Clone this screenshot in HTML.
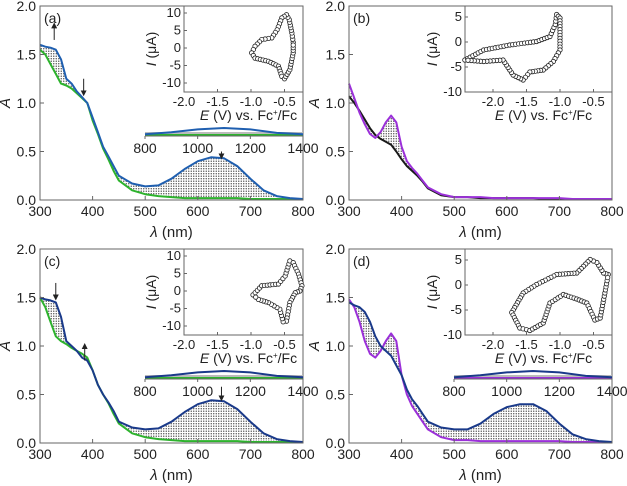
<!DOCTYPE html>
<html><head><meta charset="utf-8">
<style>
html,body{margin:0;padding:0;background:#fff;}
svg{display:block;font-family:"Liberation Sans",Arial,sans-serif;}
</style></head>
<body>
<svg id="fig" width="627" height="486" viewBox="0 0 627 486">
<defs>
<pattern id="dots" width="2.5" height="2.5" patternUnits="userSpaceOnUse">
<rect width="2.5" height="2.5" fill="#fff"/>
<circle cx="1.25" cy="1.25" r="0.7" fill="#555"/>
</pattern>
<marker id="arr" markerWidth="6" markerHeight="6" refX="3" refY="3" orient="auto"><path d="M0,0L6,3L0,6Z" fill="#222"/></marker>
</defs>
</svg>
<script>
// ---- UV-vis data (wavelength in nm, absorbance) ----
const wl = [300,310,320,330,340,350,360,370,380,390,400,410,420,430,440,450,475,500,525,550,575,600,625,650,675,700,725,750,775,800];
const aStart = [1.55,1.5,1.4,1.3,1.2,1.18,1.15,1.1,1.05,1.0,0.82,0.68,0.53,0.42,0.3,0.2,0.1,0.06,0.04,0.03,0.02,0.02,0.02,0.02,0.02,0.01,0.01,0.01,0.01,0.01];
const aEnd = [1.6,1.58,1.57,1.55,1.45,1.25,1.2,1.12,1.06,1.0,0.85,0.7,0.55,0.45,0.35,0.25,0.17,0.14,0.15,0.22,0.32,0.40,0.44,0.43,0.35,0.22,0.1,0.04,0.02,0.01];
const bStart = [1.07,1.0,0.92,0.83,0.74,0.67,0.63,0.6,0.57,0.5,0.42,0.35,0.3,0.25,0.19,0.12,0.05,0.03,0.03,0.02,0.02,0.02,0.02,0.02,0.01,0.01,0.01,0.01,0.01,0.01];
const bEnd = [1.2,1.05,0.9,0.78,0.68,0.64,0.7,0.8,0.87,0.8,0.55,0.4,0.33,0.27,0.2,0.13,0.06,0.03,0.03,0.03,0.02,0.02,0.02,0.02,0.02,0.02,0.01,0.01,0.01,0.01];
const cStart = [1.5,1.48,1.47,1.45,1.3,1.05,1.0,0.95,0.88,0.85,0.75,0.6,0.5,0.42,0.33,0.22,0.16,0.14,0.15,0.22,0.32,0.40,0.44,0.43,0.35,0.22,0.1,0.04,0.02,0.01];
const cEnd = [1.5,1.4,1.25,1.1,1.05,1.02,0.98,0.95,0.92,0.88,0.75,0.6,0.5,0.41,0.3,0.2,0.1,0.06,0.04,0.03,0.02,0.02,0.02,0.02,0.02,0.01,0.01,0.01,0.01,0.01];
const dStart = [1.45,1.42,1.4,1.35,1.25,1.1,1.0,0.95,0.9,0.8,0.7,0.55,0.45,0.38,0.3,0.22,0.16,0.14,0.14,0.2,0.3,0.37,0.40,0.40,0.33,0.2,0.09,0.04,0.02,0.01];
const dEnd = [1.48,1.4,1.25,1.05,0.92,0.88,0.95,1.05,1.13,1.05,0.7,0.5,0.38,0.3,0.22,0.14,0.06,0.03,0.03,0.02,0.02,0.02,0.02,0.02,0.02,0.02,0.01,0.01,0.01,0.01];
// ---- NIR strip data ----
const nirWl = [800,900,1000,1100,1200,1300,1400];
const nirHigh = [0.01,0.04,0.08,0.1,0.08,0.03,0.01];
const nirLow = [0,0,0,0,0,0,0];
// ---- CV data (E in V, I in uA) ----
const cvA_E = [-0.37,-0.39,-0.43,-0.47,-0.54,-0.61,-0.69,-0.84,-0.94,-0.99,-0.94,-0.74,-0.59,-0.54,-0.5,-0.42,-0.37,-0.37];
const cvA_I = [1.6,4.3,8.1,9.5,8.6,5.2,2.9,2.4,0.5,-1.4,-2.9,-3.8,-5.2,-8.1,-8.8,-6.2,-1.4,1.6];
const cvB_E = [-2.42,-2.14,-1.75,-1.35,-1.15,-1.07,-1.05,-1.0,-1.0,-1.1,-1.25,-1.45,-1.55,-1.7,-1.85,-2.14,-2.42];
const cvB_I = [-3.6,-1.6,-0.6,0.1,1.1,3.5,5.5,4.8,-1.6,-3.9,-5.6,-6,-7.6,-6.6,-3.6,-3.9,-3.6];
const cvC_E = [-0.97,-0.84,-0.59,-0.49,-0.42,-0.37,-0.29,-0.24,-0.27,-0.34,-0.42,-0.47,-0.52,-0.57,-0.74,-0.89,-0.97];
const cvC_I = [-1.1,1.5,2,4.3,8.6,8.1,4.8,1.5,0,-0.5,-3.3,-8.6,-8.8,-5.2,-3.3,-2.4,-1.1];
const cvD_E = [-0.28,-0.35,-0.45,-0.55,-0.75,-1.05,-1.35,-1.55,-1.72,-1.6,-1.45,-1.25,-1.15,-0.95,-0.75,-0.6,-0.48,-0.4,-0.33,-0.28];
const cvD_I = [2.1,2.4,4.5,5.1,2.4,2.1,0.1,-1.6,-5.5,-8.6,-9.1,-7.6,-3.6,-1.9,-2.8,-3.6,-7,-6.6,-1.6,2.1];
const yTicks = [0,0.5,1.0,1.5,2.0];
const xTicks = [300,400,500,600,700,800];
const nirTicks = [800,1000,1200,1400];
const cvXTicks = [-2.0,-1.5,-1.0,-0.5];

const NS='http://www.w3.org/2000/svg';
const svg=document.getElementById('fig');
function el(tag,attrs,parent){const e=document.createElementNS(NS,tag);for(const k in attrs)e.setAttribute(k,attrs[k]);(parent||svg).appendChild(e);return e;}
function txt(s,x,y,attrs,parent){const t=el('text',Object.assign({x:x,y:y,'font-size':13,fill:'#222'},attrs||{}),parent);t.textContent=s;return t;}
function pathOf(xs,ys,fx,fy){return xs.map((v,i)=>(i?'L':'M')+fx(v).toFixed(1)+','+fy(ys[i]).toFixed(1)).join('');}
function arrow(g,x,y1,y2){const a=el('line',{x1:x,x2:x,y1:y1,y2:y2,stroke:'#222','stroke-width':1,'marker-end':'url(#arr)'},g);

}

function panel(cfg){
  const g=el('g',{});
  
  
  const L=cfg.x,R=cfg.x+263,T=cfg.y,B=cfg.y+194;
  const fx=v=>L+(v-300)/500*(R-L);
  const fy=v=>B-v/2*(B-T);
  const top=wl.map((w,i)=>Math.max(cfg.s1[i],cfg.s2[i]));
  const bot=wl.map((w,i)=>Math.min(cfg.s1[i],cfg.s2[i]));
  const d=pathOf(wl,top,fx,fy)+wl.slice().reverse().map((w,i)=>'L'+fx(w).toFixed(1)+','+fy(bot[bot.length-1-i]).toFixed(1)).join('')+'Z';
  const fill=el('path',{d:d,fill:'url(#dots)',stroke:'none'},g);
  
  
  const p1=el('path',{d:pathOf(wl,cfg.s1,fx,fy),fill:'none',stroke:cfg.c1,'stroke-width':2,'stroke-linejoin':'round'},g);
  
  
  const p2=el('path',{d:pathOf(wl,cfg.s2,fx,fy),fill:'none',stroke:cfg.c2,'stroke-width':2,'stroke-linejoin':'round'},g);
  
  
  const fr=el('rect',{x:L,y:T,width:R-L,height:B-T,fill:'none',stroke:'#666','stroke-width':1},g);
  
  
  xTicks.forEach(t=>{
    el('line',{x1:fx(t),x2:fx(t),y1:B,y2:B-4,stroke:'#666'},g);
    const lb=txt(String(t),fx(t),B+16,{'text-anchor':'middle','font-size':14},g);
    
    
  });
  yTicks.forEach(t=>{
    el('line',{x1:L,x2:L+4,y1:fy(t),y2:fy(t),stroke:'#666'},g);
    const lb=txt(t.toFixed(1),L-4,fy(t)+5,{'text-anchor':'end','font-size':14},g);
    
    
  });
  const xt=txt('',(L+R)/2,B+37,{'text-anchor':'middle','font-size':15},g);
  xt.innerHTML='<tspan font-style="italic">λ</tspan> (nm)';
  
  
  const yt=txt('A',L-30,(T+B)/2,{'font-style':'italic','font-size':15,transform:'rotate(-90 '+(L-30)+' '+(T+B)/2+')','text-anchor':'middle'},g);
  
  
  const pl=txt('('+cfg.label+')',L+4,T+17,{'font-size':14},g);
  
  
  if(cfg.nir){
    const nL=L+105,nR=R,nB=T+129;
    const nx=v=>nL+(v-800)/600*(nR-nL);
    const ny=v=>nB-v*70;
    el('rect',{x:nL,y:nB-3,width:nR-nL,height:4,fill:'#bbb'},g);
    const a=el('path',{d:pathOf(nirWl,nirLow,nx,ny),fill:'none',stroke:cfg.c1,'stroke-width':2},g);
    
    
    const b=el('path',{d:pathOf(nirWl,nirHigh,nx,ny),fill:'none',stroke:cfg.nirC,'stroke-width':2},g);
    
    
    el('line',{x1:nL,x2:nR,y1:nB+1,y2:nB+1,stroke:'#666'},g);
    nirTicks.forEach(t=>{
      el('line',{x1:nx(t),x2:nx(t),y1:nB+1,y2:nB+4,stroke:'#666'},g);
      const lb=txt(String(t),nx(t),nB+18,{'text-anchor':'middle','font-size':14},g);
      
      
    });
  }
  (cfg.arrows||[]).forEach(a=>arrow(g,fx(a[0]),fy(a[1]),fy(a[2])));
  const c=cfg.cv;
  const iL=c.L,iR=R,iT=T,iB=T+86;
  const ex=v=>c.x0+(v+2)/0.5*33.5;
  const iy=v=>c.y0-v*c.sy;
  const ins=el('g',{},g);
  
  
  el('rect',{x:iL,y:iT,width:iR-iL,height:iB-iT,fill:'#fff',stroke:'#666'},ins);
  el('path',{d:pathOf(c.E,c.I,ex,iy),fill:'none',stroke:'#333','stroke-width':0.8},ins);
  for(let i=0;i<c.E.length-1;i++){
    const x1=ex(c.E[i]),y1=iy(c.I[i]),x2=ex(c.E[i+1]),y2=iy(c.I[i+1]);
    const n=Math.max(1,Math.round(Math.hypot(x2-x1,y2-y1)/3));
    for(let k=0;k<n;k++){
      const m=el('circle',{cx:x1+(x2-x1)*k/n,cy:y1+(y2-y1)*k/n,r:2.2,fill:'#fff',stroke:'#222','stroke-width':0.8},ins);
      
      
    }
  }
  cvXTicks.forEach(t=>{
    el('line',{x1:ex(t),x2:ex(t),y1:iB,y2:iB-3,stroke:'#666'},ins);
    txt(t.toFixed(1),ex(t),iB+14,{'text-anchor':'middle','font-size':13},ins);
  });
  c.yt.forEach(t=>{
    el('line',{x1:iL,x2:iL+3,y1:iy(t),y2:iy(t),stroke:'#666'},ins);
    txt(String(t),iL-3,iy(t)+4,{'text-anchor':'end','font-size':13},ins);
  });
  const et=txt('',(iL+iR)/2+5,iB+28,{'text-anchor':'middle','font-size':14},ins);
  et.innerHTML='<tspan font-style="italic">E</tspan> (V) vs. Fc<tspan font-size="8" dy="-5">+</tspan><tspan dy="5">/Fc</tspan>';
  
  
  const cyx=iL-28,cyy=(iT+iB)/2;
  const it=txt('',cyx,cyy,{'text-anchor':'middle','font-size':14,transform:'rotate(-90 '+cyx+' '+cyy+')'},ins);
  it.innerHTML='<tspan font-style="italic">I</tspan> (μA)';
  
  
}

panel({label:'a',x:40,y:6,s1:aStart,s2:aEnd,c1:'#2db32d',c2:'#1f5fb0',nir:true,nirC:'#1f5fb0',
  arrows:[[327,1.65,1.8],[383,1.25,1.1],[645,0.5,0.45]],
  cv:{L:184,x0:184,y0:48,sy:3.5,E:cvA_E,I:cvA_I,yt:[10,5,0,-5,-10]}});
panel({label:'b',x:349,y:6,s1:bStart,s2:bEnd,c1:'#1a1a1a',c2:'#9b30d9',nir:false,
  cv:{L:465,x0:493,y0:42,sy:5,E:cvB_E,I:cvB_I,yt:[5,0,-5,-10]}});
panel({label:'c',x:40,y:249,s1:cEnd,s2:cStart,c1:'#2db32d',c2:'#1a3a8a',nir:true,nirC:'#1a3a8a',
  arrows:[[330,1.65,1.5],[385,0.85,1.0],[645,0.58,0.46]],
  cv:{L:184,x0:184,y0:48+243,sy:3.5,E:cvC_E,I:cvC_I,yt:[10,5,0,-5,-10]}});
panel({label:'d',x:349,y:249,s1:dEnd,s2:dStart,c1:'#9b30d9',c2:'#1a3a8a',nir:true,nirC:'#1a3a8a',
  cv:{L:465,x0:493,y0:42+243,sy:5,E:cvD_E,I:cvD_I,yt:[5,0,-5,-10]}});
</script>
</body></html>
